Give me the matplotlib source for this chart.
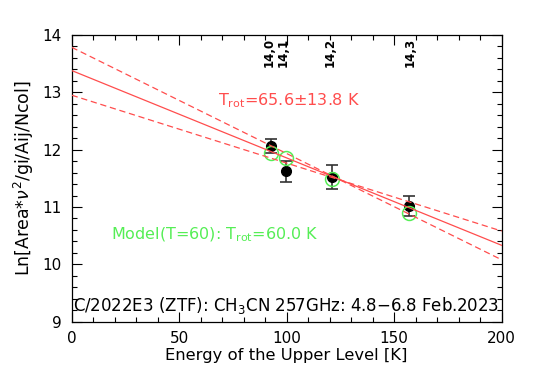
import matplotlib
matplotlib.use("Agg")
import matplotlib.pyplot as plt
import numpy as np
from matplotlib.ticker import MultipleLocator

# Data
energy = [92.6, 99.8, 121.2, 156.9]
ln_obs = [12.07, 11.62, 11.53, 11.02]
ln_err = [0.12, 0.18, 0.21, 0.18]
ln_model = [11.95, 11.85, 11.49, 10.89]
line_labels = ["14,0", "14,1", "14,2", "14,3"]
label_x = [92.0, 98.2, 120.2, 157.3]

fit_intercept = 13.38
fit_trot = 65.6
fit_err = 13.8
bound_intercepts = [13.785, 12.95]
bound_slopes = [-0.01853, -0.01185]

red = "#ff4d4d"
green = "#55ee55"

plt.rcParams['font.family'] = ['DejaVu Sans']

fig = plt.figure(figsize=(5.38, 3.77), dpi=100)
ax = fig.add_axes([0.1333, 0.1467, 0.7993, 0.7605])

xx = np.array([0.0, 200.0])
ax.plot(xx, fit_intercept - xx / fit_trot, color=red, lw=0.9, zorder=5)
for b, s in zip(bound_intercepts, bound_slopes):
    ax.plot(xx, b + s * xx, color=red, lw=0.9, ls=(0, (5, 3)), zorder=5)

ax.errorbar(energy, ln_obs, yerr=ln_err, fmt='o', color='black', ms=7,
            ecolor='#333333', elinewidth=1.2, capsize=4, capthick=1.2, zorder=3)
ax.plot(energy, ln_model, 'o', mfc='none', mec=green, ms=10, mew=1.1, zorder=4)

for lab, x in zip(line_labels, label_x):
    ax.text(x, 13.95, lab, rotation=90, ha='center', va='top', fontsize=8.5,
            fontweight='bold', color='black')

ax.text(68, 12.85, r"T$_{\rm rot}$=65.6$\pm$13.8 K", color=red, fontsize=11.5,
        ha='left', va='center')
ax.text(18.5, 10.52, r"Model(T=60): T$_{\rm rot}$=60.0 K", color=green, fontsize=11.5,
        ha='left', va='center')
ax.text(0.5, 9.28, "C/2022E3 (ZTF): CH$_3$CN 257GHz: 4.8$-$6.8 Feb.2023", color='black',
        fontsize=12, ha='left', va='center')

ax.set_xlim(0, 200)
ax.set_ylim(9, 14)
ax.xaxis.set_major_locator(MultipleLocator(50))
ax.xaxis.set_minor_locator(MultipleLocator(10))
ax.yaxis.set_major_locator(MultipleLocator(1))
ax.yaxis.set_minor_locator(MultipleLocator(0.2))
ax.tick_params(which='both', direction='in', top=True, right=True, labelsize=11,
               width=0.8, pad=7)
ax.tick_params(which='major', length=7)
ax.tick_params(which='minor', length=3.5)
for sp in ax.spines.values():
    sp.set_linewidth(0.9)

ax.set_xlabel("Energy of the Upper Level [K]", fontsize=11.8, labelpad=1)
ax.set_ylabel(r"Ln[Area$*\nu^2$/gi/Aij/Ncol]", fontsize=12.5, labelpad=5)

fig.savefig("out.png", dpi=100)
